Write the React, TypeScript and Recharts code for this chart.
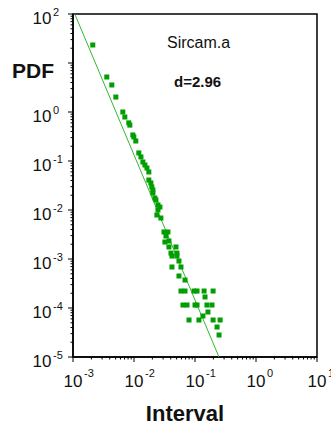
import { ComposedChart, Scatter, XAxis, YAxis, ReferenceArea } from 'recharts'

const intervalX = [
  2.11e-3, 3.58e-3, 4.33e-3, 5.04e-3, 6.56e-3, 7.08e-3, 8.22e-3, 8.55e-3, 9.57e-3, 9.94e-3,
  1.07e-2, 1.2e-2, 1.3e-2, 1.4e-2, 1.51e-2, 1.63e-2, 1.75e-2, 1.75e-2, 1.89e-2, 1.96e-2,
  2.04e-2, 2.04e-2, 2.2e-2, 2.29e-2, 2.66e-2, 2.47e-2, 2.47e-2, 2.37e-2, 2.76e-2,
  3.1e-2, 3.6e-2, 3.34e-2, 3.21e-2, 3.74e-2, 3.74e-2, 4.88e-2, 4.04e-2, 5.06e-2, 4.19e-2, 5.06e-2,
  5.46e-2, 4.19e-2, 5.89e-2, 5.46e-2, 6.86e-2,
  5.89e-2, 6.86e-2, 9.64e-2, 0.108, 0.141, 0.198,
  0.146,
  6.35e-2, 7.4e-2, 0.1, 0.108, 0.157, 0.19,
  0.163, 0.135,
  7.98e-2, 0.116, 0.198, 0.258,
  0.23, 0.248,
]
const pdfY = [
  23.3, 5.18, 3.56, 2.02, 1.0, 0.79, 0.6, 0.54, 0.34, 0.31,
  0.256, 0.146, 0.121, 0.0955, 0.0828, 0.0719, 0.0597, 0.0409, 0.0356, 0.0295,
  0.0256, 0.0222, 0.0176, 0.016, 0.0115, 0.0127, 0.01, 0.0079, 0.00687,
  3.56e-3, 3.56e-3, 2.95e-3, 2.22e-3, 2.33e-3, 1.76e-3, 1.76e-3, 1.32e-3, 1.32e-3, 1.15e-3, 1.15e-3,
  9.1e-4, 6.87e-4, 6.87e-4, 4.5e-4, 3.72e-4,
  2.22e-4, 2.22e-4, 2.22e-4, 2.22e-4, 2.22e-4, 2.22e-4,
  1.68e-4,
  1.15e-4, 1.15e-4, 1.15e-4, 1.15e-4, 1.15e-4, 1.15e-4,
  8.28e-5, 6.87e-5,
  5.69e-5, 5.69e-5, 5.69e-5, 5.69e-5,
  4.09e-5, 2.81e-5,
]

// fitted power law, slope d = 2.96
const fitX = [1.07e-3, 0.247]
const fitY = [100, 1e-5]

const xDecades = [-3, -2, -1, 0, 1]
const yDecades = [-5, -4, -3, -2, -1, 0, 1, 2]

const points = intervalX.map((x, i) => ({ x, y: pdfY[i] }))
const fit = fitX.map((x, i) => ({ x, y: fitY[i] }))

function logTicks(decades: number[]) {
  const out: number[] = []
  decades.forEach((d, i) => {
    out.push(Math.pow(10, d))
    if (i < decades.length - 1) {
      for (let m = 2; m <= 9; m++) out.push(m * Math.pow(10, d))
    }
  })
  return out
}

const FONT = '"Liberation Sans", Arial, Helvetica, sans-serif'
const POINT = '#009e00'
const LINE = '#33b833'

function exponentOf(v: number) {
  const e = Math.log10(v)
  const r = Math.round(e)
  return Math.abs(e - r) < 1e-6 ? r : null
}

function XTick(props: any) {
  const { x, y, payload } = props
  const e = exponentOf(payload.value)
  return (
    <g>
      <line x1={x} x2={x} y1={y} y2={y + (e !== null ? 5 : 2.5)} stroke="#000" strokeWidth={1} />
      {e !== null && (
        <g fontFamily={FONT} fill="#111">
          <text x={x + 9.5} y={y + 30} textAnchor="end" fontSize={17}>10</text>
          <text x={x + 11} y={y + 20} fontSize={11}>{e}</text>
        </g>
      )}
    </g>
  )
}

function YTick(props: any) {
  const { x, y, payload } = props
  const e = exponentOf(payload.value)
  return (
    <g>
      <line x1={x - (e !== null ? 5 : 2.5)} x2={x} y1={y} y2={y} stroke="#000" strokeWidth={1} />
      {e !== null && e !== 1 && (
        <g fontFamily={FONT} fill="#111">
          <text x={x - 21.5} y={y + 10} textAnchor="end" fontSize={17}>10</text>
          <text x={x - 20} y={y + 1.5} fontSize={11}>{e}</text>
        </g>
      )}
    </g>
  )
}

const Square = (props: any) => (
  <rect x={props.cx - 2.5} y={props.cy - 2.5} width={5} height={5} fill={POINT} />
)

export default function App() {
  return (
    <div style={{ position: 'absolute', left: 0, top: 0, width: 331, height: 427, background: '#fff' }}>
      <ComposedChart width={331} height={427} margin={{ top: 14, right: 14, bottom: 0, left: 0 }}>
        <XAxis
          type="number"
          dataKey="x"
          scale="log"
          domain={[1e-3, 10]}
          allowDataOverflow
          ticks={logTicks(xDecades)}
          interval={0}
          tick={<XTick />}
          tickSize={0}
          tickMargin={0}
          tickLine={false}
          height={70}
          axisLine={{ stroke: '#000', strokeWidth: 1.5 }}
        />
        <YAxis
          type="number"
          dataKey="y"
          scale="log"
          domain={[1e-5, 100]}
          allowDataOverflow
          ticks={logTicks(yDecades)}
          interval={0}
          tick={<YTick />}
          tickSize={0}
          tickMargin={0}
          tickLine={false}
          width={73}
          axisLine={{ stroke: '#000', strokeWidth: 1.5 }}
        />
        <ReferenceArea x1={1e-3} x2={10} y1={1e-5} y2={100} fill="none" stroke="#000" strokeWidth={1.5} />
        <Scatter data={fit} line={{ stroke: LINE, strokeWidth: 1 }} shape={() => <g />} isAnimationActive={false} />
        <Scatter data={points} shape={Square} isAnimationActive={false} />
      </ComposedChart>
      <svg width={331} height={427} style={{ position: 'absolute', left: 0, top: 0, pointerEvents: 'none' }}>
        <g fontFamily={FONT} fill="#111">
          <text x={167} y={48} fontSize={16}>Sircam.a</text>
          <text x={174} y={86.5} fontSize={15} fontWeight="bold">d=2.96</text>
          <text x={12} y={78} fontSize={21} fontWeight="bold">PDF</text>
          <text x={185} y={421} fontSize={22} fontWeight="bold" textAnchor="middle">Interval</text>
        </g>
      </svg>
    </div>
  )
}
